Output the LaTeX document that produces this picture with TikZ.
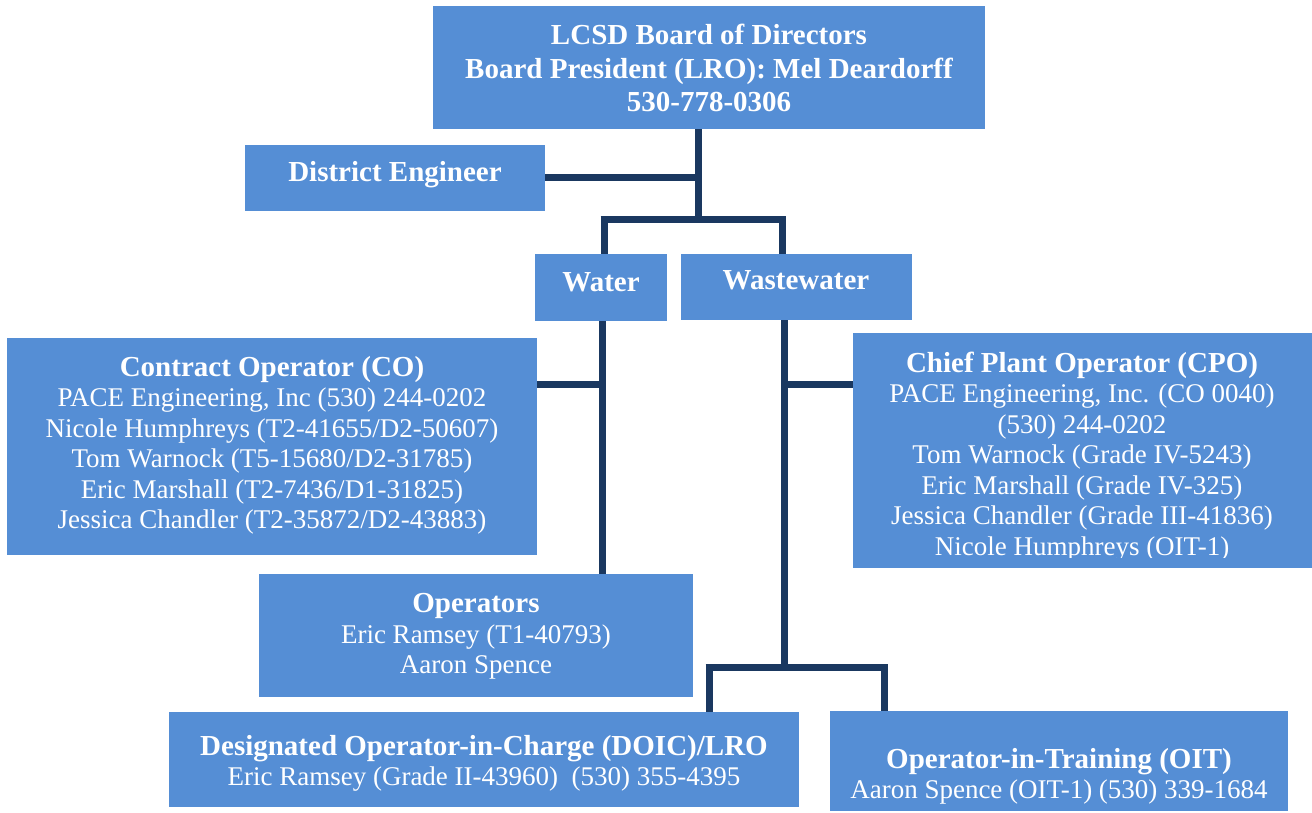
\documentclass[tikz,border=0pt]{standalone}
\usepackage{fontspec}
\setmainfont{Liberation Serif}
\definecolor{boxblue}{RGB}{85,142,213}
\definecolor{linenavy}{RGB}{26,56,96}
\begin{document}
\begin{tikzpicture}[x=1pt,y=-1pt,
  orgbox/.style={fill=boxblue, draw=none, anchor=north west, inner sep=0pt},
  orgtext/.style={text=white, align=center, inner sep=0pt, font=\fontsize{27}{30.5}\selectfont},
  link/.style={draw=linenavy, line width=7pt}
]
\newcommand{\hd}[1]{{\bfseries\fontsize{29}{33}\selectfont #1}}
\useasboundingbox (0,0) rectangle (1312,813);

% junction coordinates
\coordinate (bj) at (698,178);
\coordinate (bb) at (698,220);
\coordinate (wl) at (604,220);
\coordinate (wr) at (782,220);
\coordinate (coj) at (602,384);
\coordinate (cpj) at (784,384);
\coordinate (oj) at (784,667);
\coordinate (ol) at (709,667);
\coordinate (or) at (884,667);

% boxes
\node[orgbox, minimum width=552pt, minimum height=123pt] (board) at (433,6) {};
\node[orgbox, minimum width=300pt, minimum height=66pt] (de) at (245,145) {};
\node[orgbox, minimum width=132pt, minimum height=67pt] (water) at (535,254) {};
\node[orgbox, minimum width=231pt, minimum height=66pt] (ww) at (681,254) {};
\node[orgbox, minimum width=530pt, minimum height=217pt] (co) at (7,338) {};
\node[orgbox, minimum width=459pt, minimum height=235pt] (cpo) at (853,333) {};
\node[orgbox, minimum width=434pt, minimum height=123pt] (ops) at (259,574) {};
\node[orgbox, minimum width=630pt, minimum height=95pt] (doic) at (169,712) {};
\node[orgbox, minimum width=458pt, minimum height=100pt] (oit) at (830,711) {};

% connectors
\draw[link] (board.south -| bb) -- (bb);
\draw[link] (de.east |- bj) -- (bj);
\draw[link] ([xshift=-3.5pt]wl) -- ([xshift=3.5pt]wr);
\draw[link] (wl) -- (wl |- water.north);
\draw[link] (wr) -- (wr |- ww.north);
\draw[link] (water.south -| coj) -- (ops.north -| coj);
\draw[link] (co.east |- coj) -- (coj);
\draw[link] (ww.south -| cpj) -- (oj);
\draw[link] (cpj) -- (cpo.west |- cpj);
\draw[link] ([xshift=-3.5pt]ol) -- ([xshift=3.5pt]or);
\draw[link] (ol) -- (ol |- doic.north);
\draw[link] (or) -- (or |- oit.north);

% texts
\node[orgtext] (boardT) at (709,68) {\hd{LCSD Board of Directors}\\[3pt]\hd{Board President (LRO): Mel Deardorff}\\[3pt]\hd{530-778-0306}};
\node[orgtext] (deT) at (395,175) {\hd{District Engineer}};
\node[orgtext] (waterT) at (601,282) {\hd{Water}};
\node[orgtext] (wwT) at (796,280) {\hd{Wastewater}};
\node[orgtext] (coT) at (272,445.5) {\hd{Contract Operator (CO)}\\
PACE Engineering, Inc (530) 244-0202\\
Nicole Humphreys (T2-41655/D2-50607)\\
Tom Warnock (T5-15680/D2-31785)\\
Eric Marshall (T2-7436/D1-31825)\\
Jessica Chandler (T2-35872/D2-43883)};
\begin{scope}
\clip (853,333) rectangle (1312,557);
\node[orgtext] (cpoT) at (1082,456.5) {\hd{Chief Plant Operator (CPO)}\\
PACE Engineering, Inc. (CO 0040)\\
(530) 244-0202\\
Tom Warnock (Grade IV-5243)\\
Eric Marshall (Grade IV-325)\\
Jessica Chandler (Grade III-41836)\\
Nicole Humphreys (OIT-1)};
\end{scope}
\node[orgtext] (opsT) at (476,636.5) {\hd{Operators}\\
Eric Ramsey (T1-40793)\\
Aaron Spence};
\node[orgtext] (doicT) at (484,763.5) {\hd{Designated Operator-in-Charge (DOIC)/LRO}\\
Eric Ramsey (Grade II-43960)\ \ (530) 355-4395};
\node[orgtext] (oitT) at (1059,776.5) {\hd{Operator-in-Training (OIT)}\\
Aaron Spence (OIT-1) (530) 339-1684};
\end{tikzpicture}
\end{document}
